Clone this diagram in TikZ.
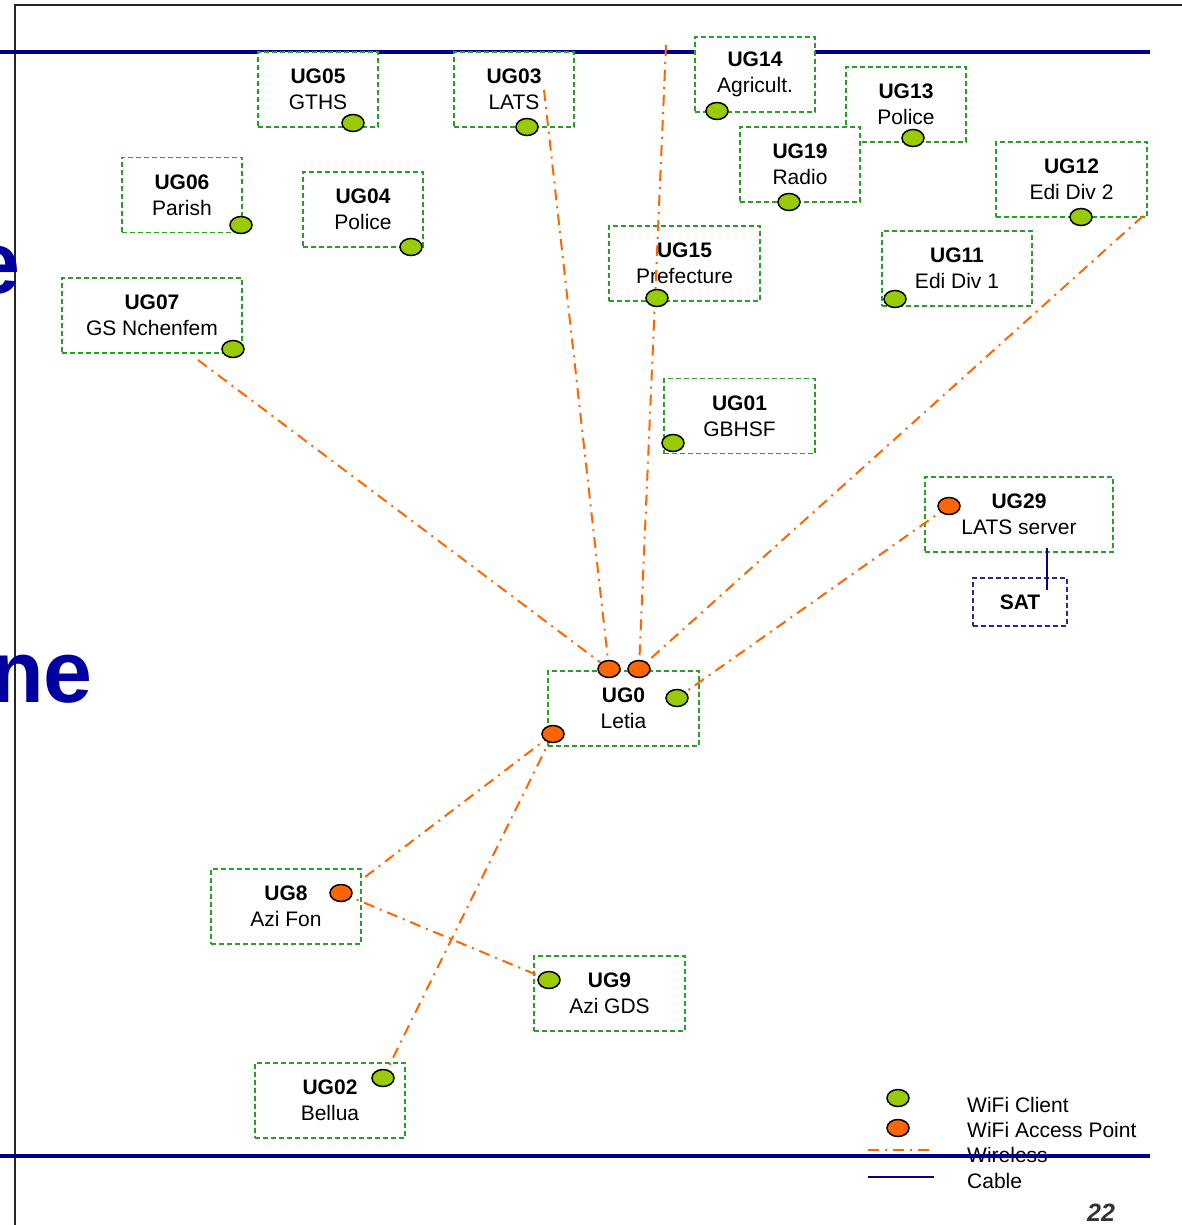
\documentclass[tikz,border=0pt]{standalone}
\usepackage{fontspec}
\setmainfont{Liberation Sans}
\usetikzlibrary{shapes.geometric}
\definecolor{navyline}{RGB}{0,0,140}
\definecolor{titleblue}{RGB}{0,0,160}
\definecolor{boxgreen}{RGB}{40,160,40}
\definecolor{satblue}{RGB}{40,40,150}
\definecolor{clientgreen}{RGB}{153,204,0}
\definecolor{aporange}{RGB}{255,102,0}
\tikzset{
  ugbox/.style={draw=boxgreen, dashed, dash pattern=on 5pt off 3pt, line width=1.2pt, fill=white,
    minimum height=75pt, inner sep=0pt, align=center, font=\fontsize{21}{26}\selectfont},
  satbox/.style={draw=satblue, dashed, dash pattern=on 5pt off 3pt, line width=1.2pt, fill=white,
    minimum width=94pt, minimum height=48pt, inner sep=0pt, font=\fontsize{21}{26}\selectfont\bfseries},
  client/.style={ellipse, draw=black, line width=1.5pt, fill=clientgreen, minimum width=22pt, minimum height=17pt, inner sep=0pt},
  accesspt/.style={ellipse, draw=black, line width=1.5pt, fill=aporange, minimum width=22pt, minimum height=17pt, inner sep=0pt},
  wl/.style={draw=aporange, line width=2pt, dash pattern=on 11pt off 6pt on 2pt off 6pt},
  cable/.style={draw=navyline, line width=1.5pt},
  legtext/.style={anchor=base west, inner sep=0pt, font=\fontsize{21}{26}\selectfont},
  bigtitle/.style={anchor=base east, inner sep=0pt, text=titleblue, font=\fontsize{88}{100}\selectfont\bfseries}
}
\begin{document}
\begin{tikzpicture}[x=1pt,y=-1pt]
\useasboundingbox (0,0) rectangle (1182,1225);
\clip (0,0) rectangle (1182,1225);
\fill[white] (0,0) rectangle (1182,1225);
% slide frame
\draw[line width=2pt, black!85] (15,1225) -- (15,5) -- (1182,5);
% partial slide title text
\node[bigtitle] (t1) at (21,293) {e};
\node[bigtitle] (t2) at (93,702) {ne};
% legend texts
\node[legtext] (l1) at (967,1112) {WiFi Client};
\node[legtext] (l2) at (967,1137) {WiFi Access Point};
\node[legtext] (l3) at (967,1162) {Wireless};
\node[legtext] (l4) at (967,1188) {Cable};
% legend lines
\coordinate (lw1) at (868,1150);
\coordinate (lw2) at (934,1150);
\coordinate (lc1) at (868,1177);
\coordinate (lc2) at (934,1177);
\draw[wl] (lw1) -- (lw2);
\draw[cable] (lc1) -- (lc2);
% blue rules
\draw[navyline, line width=4pt] (0,52) -- (1150,52);
\draw[navyline, line width=4pt] (0,1156) -- (1150,1156);
% boxes
\node[ugbox, minimum width=120pt] (u05) at (318,89.5) {\textbf{UG05}\\GTHS};
\node[ugbox, minimum width=120pt] (u03) at (514,89.5) {\textbf{UG03}\\LATS};
\node[ugbox, minimum width=120pt] (u14) at (755,74.5) {\textbf{UG14}\\Agricult.};
\node[ugbox, minimum width=120pt] (u13) at (906,104.5) {\textbf{UG13}\\Police};
\node[ugbox, minimum width=120pt] (u19) at (800,164.5) {\textbf{UG19}\\Radio};
\node[ugbox, minimum width=151pt] (u12) at (1071.5,179.5) {\textbf{UG12}\\Edi Div 2};
\node[ugbox, minimum width=120pt] (u06) at (182,195) {\textbf{UG06}\\Parish};
\node[ugbox, minimum width=120pt] (u04) at (363,209.5) {\textbf{UG04}\\Police};
\node[ugbox, minimum width=151pt] (u15) at (684.5,263.5) {\textbf{UG15}\\Prefecture};
\node[ugbox, minimum width=150pt] (u11) at (957,268.5) {\textbf{UG11}\\Edi Div 1};
\node[ugbox, minimum width=180pt] (u07) at (152,315.5) {\textbf{UG07}\\GS Nchenfem};
\node[ugbox, minimum width=151pt] (u01) at (739.5,416) {\textbf{UG01}\\GBHSF};
\node[ugbox, minimum width=188pt] (u29) at (1019,514.5) {\textbf{UG29}\\LATS server};
\node[satbox] (sat) at (1020,602) {SAT};
\node[ugbox, minimum width=151pt] (u0) at (623.5,708.5) {\textbf{UG0}\\Letia};
\node[ugbox, minimum width=150pt] (u8) at (286,906.5) {\textbf{UG8}\\Azi Fon};
\node[ugbox, minimum width=151pt] (u9) at (609.5,993.5) {\textbf{UG9}\\Azi GDS};
\node[ugbox, minimum width=150pt] (u02) at (330,1100.5) {\textbf{UG02}\\Bellua};
% cable
\coordinate (cb1) at (1047,548);
\coordinate (cb2) at (1047,590);
\draw[cable] (cb1) -- (cb2);
% radio positions
\path
  (353,123) coordinate (p05)
  (527,127) coordinate (p03)
  (717,111) coordinate (p14)
  (913,138) coordinate (p13)
  (789,202) coordinate (p19)
  (1081,217) coordinate (p12)
  (241,225) coordinate (p06)
  (411,247) coordinate (p04)
  (657,298) coordinate (p15)
  (895,299) coordinate (p11)
  (233,349) coordinate (p07)
  (673,443) coordinate (p01)
  (949,506) coordinate (pa29)
  (609,669) coordinate (pa1)
  (639,669) coordinate (pa2)
  (553,734) coordinate (pa3)
  (677,698) coordinate (p0)
  (341,893) coordinate (pa8)
  (549,980) coordinate (p9)
  (383,1078) coordinate (p02);
% wireless free ends
\coordinate (w07) at (198,360);
\coordinate (w03) at (544,90);
\coordinate (wtop) at (666,45);
\coordinate (w12) at (1143,216);
\coordinate (w8) at (361,880);
% wireless links
\draw[wl] (w07) -- (pa1);
\draw[wl] (w03) -- (pa1);
\draw[wl] (wtop) -- (pa2);
\draw[wl] (w12) -- (pa2);
\draw[wl] (pa29) -- (p0);
\draw[wl] (pa3) -- (w8);
\draw[wl] (pa3) -- (p02);
\draw[wl] (pa8) -- (p9);
% radio nodes on top
\node[client] (c05) at (p05) {};
\node[client] (c03) at (p03) {};
\node[client] (c14) at (p14) {};
\node[client] (c13) at (p13) {};
\node[client] (c19) at (p19) {};
\node[client] (c12) at (p12) {};
\node[client] (c06) at (p06) {};
\node[client] (c04) at (p04) {};
\node[client] (c15) at (p15) {};
\node[client] (c11) at (p11) {};
\node[client] (c07) at (p07) {};
\node[client] (c01) at (p01) {};
\node[accesspt] (a29) at (pa29) {};
\node[accesspt] (a1) at (pa1) {};
\node[accesspt] (a2) at (pa2) {};
\node[accesspt] (a3) at (pa3) {};
\node[client] (c0) at (p0) {};
\node[accesspt] (a8) at (pa8) {};
\node[client] (c9) at (p9) {};
\node[client] (c02) at (p02) {};
% legend symbols
\node[client] (lgc) at (898,1098) {};
\node[accesspt] (lga) at (898,1128) {};
% page number
\node[anchor=base, inner sep=0pt, text=black!80, font=\fontsize{25}{30}\selectfont\bfseries\itshape] (pg) at (1101,1221) {22};
\end{tikzpicture}
\end{document}
